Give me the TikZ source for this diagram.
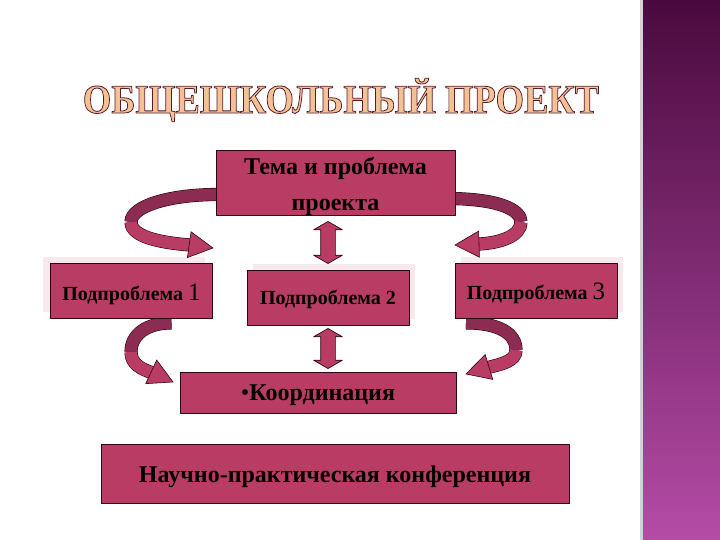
\documentclass[tikz,border=0pt]{standalone}
\usepackage{fontspec}
\setmainfont{Liberation Serif}
\newfontface\titlefont{Liberation Serif Bold}[FakeBold=2]
\usepackage{graphicx}
\usetikzlibrary{shapes.arrows,calc}
\definecolor{rasp}{RGB}{185,60,100}
\definecolor{raspdark}{RGB}{140,44,82}
\definecolor{edge}{RGB}{45,6,20}
\definecolor{pale}{RGB}{246,234,238}
\definecolor{bartop}{RGB}{74,10,62}
\definecolor{barmid}{RGB}{125,48,112}
\definecolor{barbot}{RGB}{180,76,166}
\pgfdeclarelayer{back}
\pgfsetlayers{back,main}
\tikzset{
  box/.style={draw=edge, line width=0.8pt, fill=rasp, text=black, inner sep=0pt},
  paleshadow/.style={fill=pale},
  ribbonback/.style={draw=edge, line width=0.6pt, double=raspdark, double distance=12pt},
  ribbonfront/.style={draw=edge, line width=0.6pt, double=rasp, double distance=12pt},
  updown/.style={double arrow, draw=edge, line width=0.7pt, fill=rasp, inner xsep=0pt, inner ysep=7pt,
    minimum width=28, double arrow head extend=7, double arrow tip angle=120, rotate=90}
}
\newcommand{\ribhead}[2]{\filldraw[fill=rasp, draw=edge, line width=0.6pt, shift={(#1)}, rotate=#2] (0,0) -- (-24,-13) -- (-24,13) -- cycle;}
\newcommand{\outlined}[1]{\special{pdf:bcolor [0.95 0.76 0.58] [0.37 0.1 0.16]}#1\special{pdf:ecolor}}
\newcommand{\sinktext}[2]{\raisebox{-#1}[\height][\depth]{#2}}

\begin{document}
\begin{tikzpicture}[x=1pt,y=-1pt,line join=round]
    \useasboundingbox (0,0) rectangle (720,540);

    \node (title) at (341,100) {\scalebox{1}[1.12]{\fontsize{36.5}{40}\titlefont\outlined{ОБЩЕШКОЛЬНЫЙ ПРОЕКТ}}};

    \node[box, minimum width=239, minimum height=65, font=\fontsize{24}{28}\selectfont\bfseries] (theme) at (335.5,182.5) {\sinktext{4pt}{\begin{tabular}{@{}c@{}}Тема и проблема\\[8pt]проекта\end{tabular}}};
    \node[box, minimum width=162, minimum height=55, font=\fontsize{20}{24}\selectfont\bfseries] (sub1) at (131.5,291) {\sinktext{3pt}{Подпроблема \textmd{\fontsize{25}{25}\selectfont 1}}};
    \node[box, minimum width=162, minimum height=55, font=\fontsize{20}{24}\selectfont\bfseries] (sub2) at (328,297.5) {\sinktext{2pt}{Подпроблема 2}};
    \node[box, minimum width=162, minimum height=55, font=\fontsize{20}{24}\selectfont\bfseries] (sub3) at (536,291) {\sinktext{2pt}{Подпроблема \textmd{\fontsize{25}{25}\selectfont 3}}};
    \node[box, minimum width=276, minimum height=41, font=\fontsize{24}{28}\selectfont\bfseries] (coord) at (318,392.5) {\sinktext{3pt}{\textmd{•}Координация}};
    \node[box, minimum width=468, minimum height=59, font=\fontsize{24}{28}\selectfont\bfseries] (conf) at (335,473.5) {\sinktext{3pt}{Научно-практическая конференция}};

    \node[updown, minimum height=42] (arrowtop) at ($(theme.south -| sub2)!0.5!(sub2.north)$) {};
    \node[updown, minimum height=40] (arrowbottom) at ($(sub2.south)!0.5!(coord.north -| sub2)$) {};

    \coordinate (tlturn) at (131,222);
    \coordinate (tlhead) at (190,245);
    \coordinate (tltip) at (213,248);
    \coordinate (trturn) at (521,222);
    \coordinate (trhead) at (479,244);
    \coordinate (trtip) at (455,245);
    \coordinate (blturn) at (131,352);
    \coordinate (blhead) at (153,373);
    \coordinate (bltip) at (173,382);
    \coordinate (brturn) at (516,350);
    \coordinate (brhead) at (488,367.5);
    \coordinate (brtip) at (466,374);

    \begin{pgfonlayer}{back}
    \fill[white] (0,0) rectangle (720,540);
    \fill[gray!35] (640,0) rectangle (643,540);
    \shade[top color=bartop, middle color=barmid, bottom color=barbot] (643,0) rectangle (720,540);
    \fill[paleshadow] (43,257) rectangle (205,312);
    \fill[paleshadow] (253,264) rectangle (415,319);
    \fill[paleshadow] (461,257) rectangle (623,312);

    \draw[ribbonback] ($(theme.west)+(6,12)$) .. controls (170,194) and (131,206) .. (tlturn);
    \draw[ribbonfront] (tlturn) .. controls (131,238) and (165,243) .. (tlhead);
    \ribhead{tltip}{-8}
    \draw[ribbonback] ($(theme.east)+(-6,16)$) .. controls (500,199) and (521,210) .. (trturn);
    \draw[ribbonfront] (trturn) .. controls (521,236) and (500,243) .. (trhead);
    \ribhead{trtip}{182}
    \draw[ribbonback] ($(sub1.south)+(40,4)$) .. controls (146,323) and (131,335) .. (blturn);
    \draw[ribbonfront] (blturn) .. controls (131,364) and (141,369) .. (blhead);
    \ribhead{bltip}{-25}
    \draw[ribbonback] ($(sub3.south)+(-70,4)$) .. controls (500,323) and (516,334) .. (brturn);
    \draw[ribbonfront] (brturn) .. controls (516,361) and (502,364) .. (brhead);
    \ribhead{brtip}{197}
    \end{pgfonlayer}
\end{tikzpicture}
\end{document}
